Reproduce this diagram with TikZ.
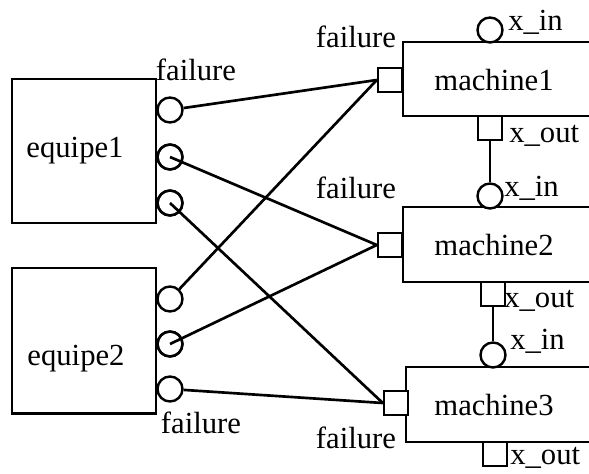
\documentclass[tikz,border=0pt]{standalone}
\usepackage{fontspec}
\setmainfont{Liberation Serif}
\begin{document}
\begin{tikzpicture}[x=0.75pt,y=-0.75pt,
  every node/.style={font=\fontsize{23}{27}\selectfont},
  box/.style={draw,line width=2pt,inner sep=0},
  cport/.style={circle,draw,line width=1.8pt,minimum size=18.75pt,inner sep=0,fill=white},
  sport/.style={rectangle,draw,line width=1.8pt,minimum size=18pt,inner sep=0,fill=white},
  wire/.style={line width=2pt},
  lbl/.style={inner sep=0}]
\useasboundingbox (0,0) rectangle (589,474);
% equipes
\node[box,minimum width=108pt,minimum height=108pt] (e1) at (84,151) {};
\node[box,minimum width=108pt,minimum height=109pt] (e2) at (84,340.5) {};
\node[lbl] (e1t) at (75,151) {equipe1};
\node[lbl] (e2t) at (76,359) {equipe2};
\node[cport] (e1a) at (170,110) {};
\node[cport] (e1b) at (170,157) {};
\node[cport] (e1c) at (170,203) {};
\node[cport] (e2a) at (170,299) {};
\node[cport] (e2b) at (170,344) {};
\node[cport] (e2c) at (170,389) {};
\node[lbl] (e1f) at (196,70) {failure};
\node[lbl] (e2f) at (201,423) {failure};
% machines
\draw[line width=2pt] (592,42) -- (403,42) -- (403,116) -- (592,116);
\draw[line width=2pt] (592,207) -- (403,207) -- (403,282) -- (592,282);
\draw[line width=2pt] (592,367) -- (406,367) -- (406,442) -- (592,442);
\node[lbl] (m1t) at (494,80) {machine1};
\node[lbl] (m2t) at (494,245) {machine2};
\node[lbl] (m3t) at (494,405) {machine3};
\node[sport] (m1f) at (390,80) {};
\node[sport] (m2f) at (390,245) {};
\node[sport] (m3f) at (396,403) {};
\node[cport] (m1in) at (490,30) {};
\node[cport] (m2in) at (490,196) {};
\node[cport] (m3in) at (493,355) {};
\node[sport] (m1out) at (490,128) {};
\node[sport] (m2out) at (493,294) {};
\node[sport] (m3out) at (495,454) {};
\node[lbl] (m1fl) at (356,37) {failure};
\node[lbl] (m2fl) at (356,188) {failure};
\node[lbl] (m3fl) at (356,438) {failure};
\node[lbl,anchor=west] (m1il) at (508,22) {x\_in};
\node[lbl,anchor=west] (m2il) at (504,188) {x\_in};
\node[lbl,anchor=west] (m3il) at (510,341) {x\_in};
\node[lbl,anchor=west] (m1ol) at (509,136) {x\_out};
\node[lbl,anchor=west] (m2ol) at (504,301) {x\_out};
\node[lbl,anchor=west] (m3ol) at (510,458) {x\_out};
% wires
\draw[wire] (e1a) -- (m1f.west);
\draw[wire] (e1b.center) -- (m2f.west);
\draw[wire] (e1c.center) -- (m3f.west);
\draw[wire] (e2a) -- (m1f.west);
\draw[wire] (e2b.center) -- (m2f.west);
\draw[wire] (e2c) -- (m3f.west);
\draw[wire] (m1out) -- (m2in);
\draw[wire] (m2out) -- (m3in);
% redraw port outlines on top where wires start at the centre
\node[cport,fill=none] at (e1b) {};
\node[cport,fill=none] at (e1c) {};
\node[cport,fill=none] at (e2b) {};
\end{tikzpicture}
\end{document}
